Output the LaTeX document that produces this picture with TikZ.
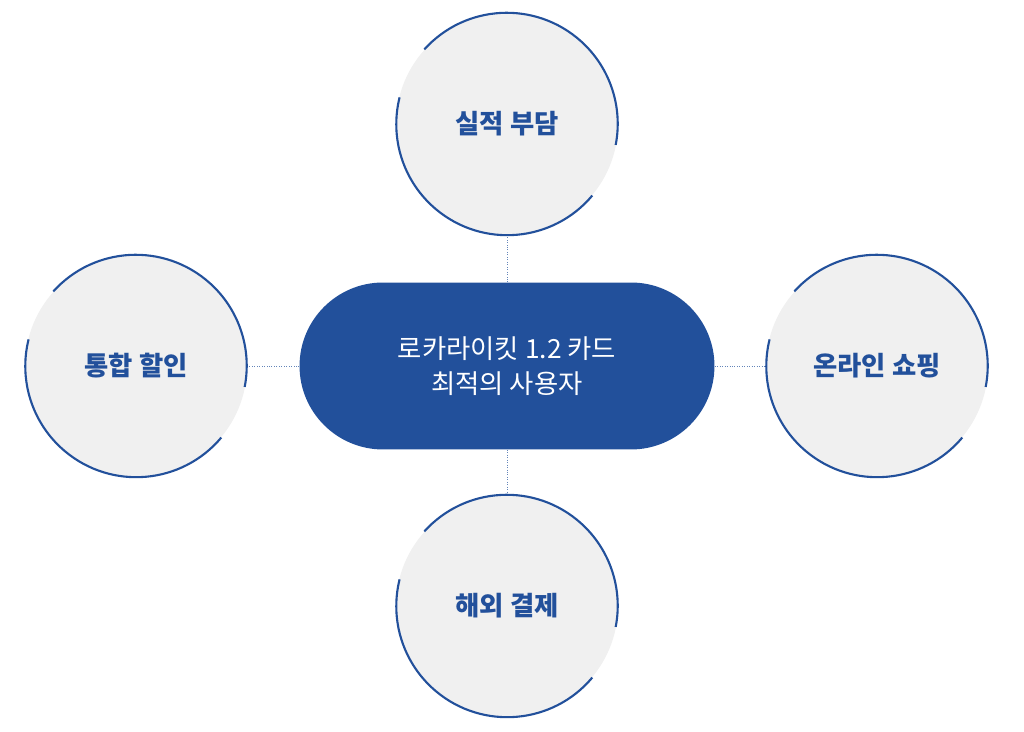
\documentclass[tikz,border=0pt]{standalone}
\usepackage{fontspec}
\setmainfont{Noto Sans CJK KR}
\usetikzlibrary{positioning}
\definecolor{navy}{HTML}{22509B}
\definecolor{bubble}{HTML}{F0F0F0}
\tikzset{
  topic/.style={circle, fill=bubble, minimum size=4.44cm, inner sep=0pt,
    text=navy, font=\fontsize{15}{18}\selectfont\bfseries},
  core/.style={rounded corners=1.67cm, fill=navy, minimum width=8.3cm,
    minimum height=3.34cm, text=white, align=center,
    font=\fontsize{15}{20}\selectfont},
  link/.style={navy!70, densely dotted, thin},
  rim/.style={navy, line width=1.2pt}}
\begin{document}
\begin{tikzpicture}[x=0.02cm,y=0.02cm]
\useasboundingbox (0,0) rectangle (1024,732);

\node (card) [core] at (507,366) {로카라이킷 1.2 카드\\최적의 사용자};

\node (perf) [topic] at (507,608) {실적 부담};
\node (abroad) [topic] at (507,126) {해외 결제};
\node (unify) [topic] at (136,366) {통합 할인};
\node (shop) [topic] at (877,366) {온라인 쇼핑};

% dotted connectors
\draw [link] (card.north) -- (perf);
\draw [link] (card.south) -- (abroad);
\draw [link] (card.west) -- (unify);
\draw [link] (card.east) -- (shop);

% broken rims
\foreach \c in {perf,abroad,unify,shop}{
  \draw [rim] (\c.138) arc[start angle=138, delta angle=-149, radius=2.22cm];
  \draw [rim] (\c.-40) arc[start angle=-40, delta angle=-154, radius=2.22cm];
}

\end{tikzpicture}
\end{document}
